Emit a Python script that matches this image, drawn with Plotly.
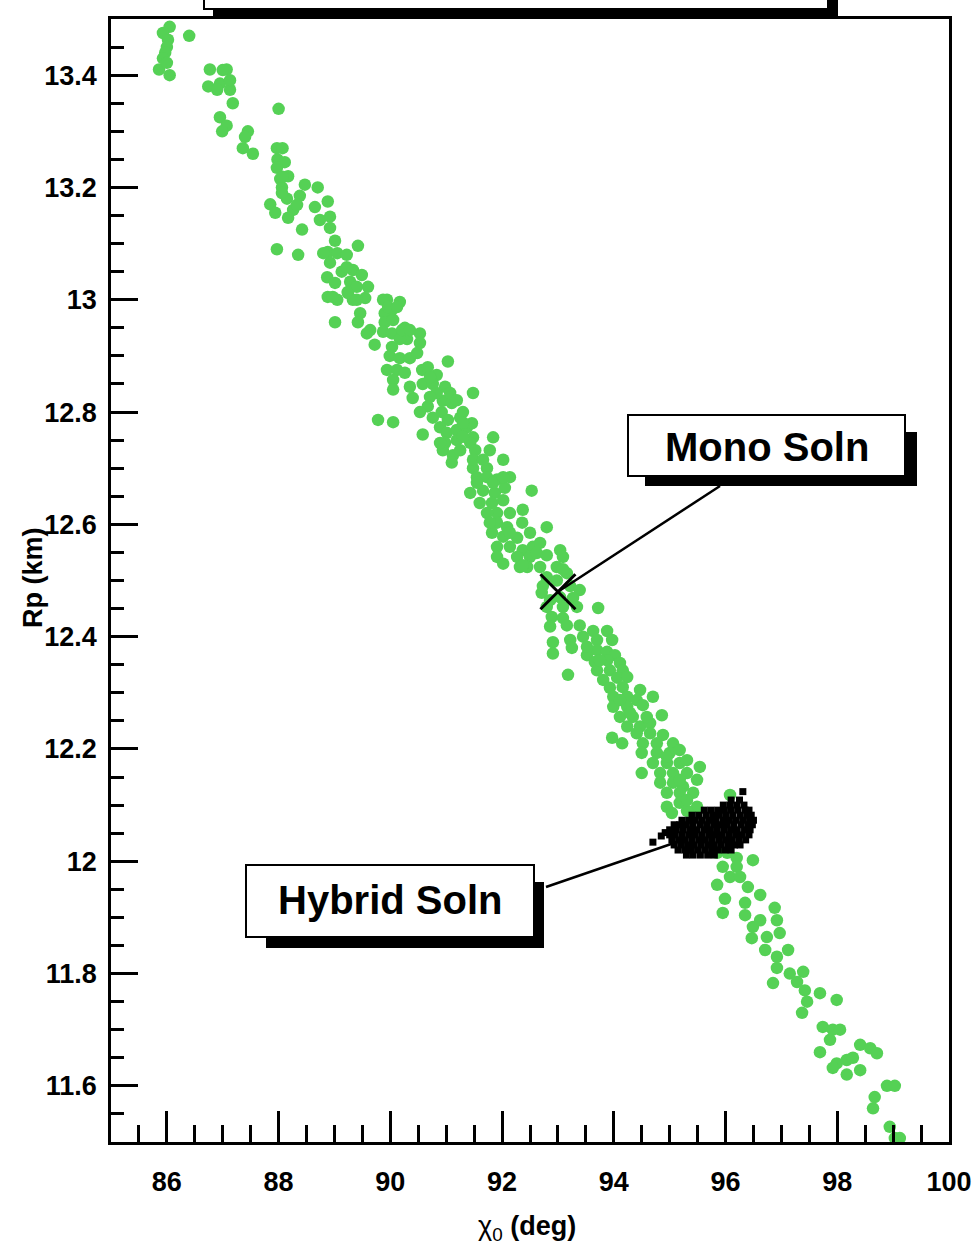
import plotly.graph_objects as go

# ---------------- data ----------------
# Monte-Carlo solutions for the single-component ("mono") fit: chi_0 (deg), Rp (km)
mono_chi_a = [86.05, 85.93, 86.02, 86.00, 85.97, 85.93, 85.86, 86.05, 86.40, 86.77,
              87.07, 86.74, 86.95, 87.13, 86.90, 87.18, 86.95, 87.07, 86.99, 87.45,
              87.40, 87.36, 87.54, 88.00, 87.97, 88.07, 87.98, 88.11, 87.97, 88.17,
              88.03, 88.06, 88.47, 88.70, 87.85, 88.15, 88.38, 88.26, 87.94, 88.17,
              88.42, 88.65, 88.88, 88.74, 88.92, 88.92, 89.01, 87.97, 88.35, 88.88,
              89.05, 89.22, 89.42, 88.92, 89.13, 89.33, 89.49, 88.87, 89.01, 89.28,
              89.60, 89.24, 88.88, 89.33, 89.55, 89.94, 90.17, 90.03, 89.46,
              86.00, 87.13, 87.00, 88.07, 88.06, 88.33, 88.80, 89.22, 89.40, 89.05]
mono_rp_a = [13.486, 13.475, 13.463, 13.450, 13.440, 13.430, 13.410, 13.400, 13.470, 13.410,
             13.410, 13.380, 13.385, 13.374, 13.374, 13.350, 13.325, 13.310, 13.300, 13.300,
             13.290, 13.270, 13.260, 13.340, 13.270, 13.270, 13.250, 13.245, 13.235, 13.220,
             13.215, 13.200, 13.205, 13.200, 13.170, 13.180, 13.185, 13.160, 13.155, 13.146,
             13.125, 13.165, 13.175, 13.142, 13.148, 13.128, 13.105, 13.090, 13.080, 13.085,
             13.083, 13.080, 13.096, 13.066, 13.050, 13.053, 13.044, 13.040, 13.030, 13.032,
             13.023, 13.014, 13.005, 13.000, 13.003, 13.000, 12.996, 12.982, 12.976,
             13.422, 13.391, 13.409, 13.219, 13.190, 13.169, 13.083, 13.058, 13.023, 13.000]

mono_chi_b = [88.97, 89.24, 89.40, 89.42, 89.01, 89.64, 89.58, 89.72, 89.90, 89.90,
              90.05, 89.87, 90.03, 90.26, 90.30, 90.17, 90.53, 90.53, 90.03, 89.99,
              90.17, 90.35, 89.94, 90.12, 90.26, 90.05, 90.05, 90.35, 90.57, 90.67,
              90.83, 91.03, 90.58, 90.76, 90.98, 90.40, 90.67, 90.94, 91.10, 90.53,
              90.76, 90.92, 91.03, 91.25, 91.30, 91.48, 89.78, 90.05, 90.58, 90.89,
              91.01, 91.19, 91.37, 91.46, 91.48, 90.98, 91.19, 90.94, 91.12, 91.25,
              91.43, 91.52, 91.84, 91.78, 92.02, 91.73, 91.48, 91.10, 91.55, 91.73,
              91.91, 92.14, 91.43, 91.66, 91.87, 92.05, 91.60, 91.82, 92.02, 92.53,
              91.91, 92.14, 92.37, 91.91, 92.09, 92.36, 91.82, 92.02, 92.27, 92.80,
              91.91, 92.14, 92.37, 92.55, 92.68, 91.91, 92.27, 92.50, 92.80, 93.04,
              93.09, 92.32, 92.68, 92.98, 93.16, 92.80,
              89.87, 89.96, 90.12, 90.21, 90.35, 90.48, 90.71, 90.83, 91.07, 91.19,
              90.71, 91.30, 90.89, 91.30, 91.48, 91.66, 91.55, 91.84, 92.02, 91.73,
              91.78, 92.14, 92.50, 92.62, 92.45]
mono_rp_b = [13.005, 13.012, 13.000, 12.960, 12.960, 12.946, 12.940, 12.920, 12.976, 12.960,
             12.964, 12.943, 12.940, 12.950, 12.930, 12.930, 12.940, 12.923, 12.916, 12.900,
             12.896, 12.896, 12.875, 12.875, 12.870, 12.857, 12.840, 12.845, 12.875, 12.880,
             12.866, 12.890, 12.850, 12.850, 12.845, 12.825, 12.810, 12.820, 12.816, 12.800,
             12.790, 12.800, 12.786, 12.790, 12.800, 12.834, 12.786, 12.782, 12.760, 12.773,
             12.763, 12.768, 12.773, 12.780, 12.755, 12.745, 12.750, 12.732, 12.723, 12.732,
             12.745, 12.732, 12.755, 12.732, 12.715, 12.700, 12.700, 12.710, 12.684, 12.684,
             12.680, 12.684, 12.656, 12.660, 12.656, 12.665, 12.638, 12.638, 12.643, 12.660,
             12.620, 12.620, 12.626, 12.603, 12.595, 12.603, 12.585, 12.578, 12.576, 12.595,
             12.560, 12.560, 12.554, 12.560, 12.567, 12.542, 12.542, 12.542, 12.545, 12.554,
             12.542, 12.524, 12.524, 12.524, 12.513, 12.506,
             13.000, 12.987, 12.987, 12.946, 12.946, 12.905, 12.862, 12.834, 12.834, 12.821,
             12.827, 12.781, 12.745, 12.756, 12.715, 12.715, 12.674, 12.674, 12.684, 12.620,
             12.603, 12.585, 12.585, 12.549, 12.524]

mono_chi_c = [92.02, 92.37, 93.09, 92.73, 92.98, 93.22, 93.39, 92.71, 93.04, 93.27,
              92.80, 93.09, 93.34, 93.72, 92.89, 93.09, 92.86, 93.16, 93.39, 93.63,
              93.88, 92.91, 93.22, 93.45, 93.70, 93.97, 92.91, 93.25, 93.52, 93.70,
              93.88, 94.02, 93.66, 93.88, 94.11, 93.18, 93.70, 93.93, 94.16, 93.81,
              94.06, 94.24, 93.93, 94.16, 94.47, 93.99, 94.24, 94.70, 94.41, 93.99,
              94.24, 94.52, 94.11, 94.34, 94.86, 94.24, 94.47, 94.65, 93.97, 94.15,
              94.41, 94.65, 94.88, 94.52, 94.77, 95.06, 94.50, 94.77, 95.00, 95.18,
              94.70, 94.95, 95.18, 94.50, 94.83, 95.06, 95.31, 95.54, 94.83, 95.06,
              95.24, 95.49, 94.95, 95.18, 95.42, 94.95, 95.18, 95.49, 96.08, 95.04,
              95.31,
              92.86, 93.52, 93.75, 94.11, 94.29, 94.59, 94.95, 95.31, 95.18, 95.31]
mono_rp_c = [12.530, 12.527, 12.520, 12.490, 12.500, 12.490, 12.483, 12.478, 12.470, 12.469,
             12.453, 12.453, 12.453, 12.451, 12.435, 12.433, 12.418, 12.420, 12.420, 12.410,
             12.410, 12.390, 12.394, 12.400, 12.394, 12.394, 12.370, 12.380, 12.367, 12.376,
             12.373, 12.367, 12.355, 12.358, 12.353, 12.332, 12.340, 12.340, 12.340, 12.323,
             12.327, 12.328, 12.309, 12.310, 12.305, 12.293, 12.293, 12.293, 12.287, 12.275,
             12.275, 12.278, 12.257, 12.257, 12.260, 12.240, 12.240, 12.246, 12.220, 12.210,
             12.228, 12.228, 12.225, 12.210, 12.210, 12.210, 12.193, 12.193, 12.193, 12.198,
             12.175, 12.175, 12.175, 12.157, 12.157, 12.157, 12.157, 12.168, 12.140, 12.140,
             12.133, 12.145, 12.122, 12.122, 12.122, 12.097, 12.104, 12.097, 12.118, 12.086,
             12.090,
             12.465, 12.382, 12.358, 12.287, 12.264, 12.257, 12.186, 12.180, 12.145, 12.109]

mono_chi_d = [95.85, 96.03, 96.20, 96.49, 95.95, 96.20, 95.85, 96.08, 96.26, 96.40,
              95.99, 96.62, 95.95, 96.35, 96.35, 96.88, 96.92, 96.49, 96.62, 96.47,
              96.74, 96.97, 96.71, 96.92, 97.12, 96.92, 97.15, 96.85, 97.39, 97.28,
              97.42, 97.46, 97.37, 97.69, 97.99, 97.74, 97.92, 98.05, 97.87, 97.69,
              97.99, 98.17, 98.28, 98.41, 98.59, 98.71, 97.92, 98.17, 98.41, 98.67,
              98.64, 98.89, 99.03, 98.94, 99.03, 99.12]
mono_rp_d = [12.015, 12.015, 12.006, 12.002, 11.990, 11.990, 11.958, 11.972, 11.972, 11.954,
             11.933, 11.940, 11.908, 11.926, 11.904, 11.917, 11.895, 11.883, 11.895, 11.863,
             11.865, 11.872, 11.842, 11.830, 11.842, 11.810, 11.800, 11.783, 11.803, 11.785,
             11.770, 11.750, 11.730, 11.765, 11.753, 11.705, 11.700, 11.700, 11.682, 11.660,
             11.640, 11.646, 11.650, 11.673, 11.667, 11.658, 11.632, 11.620, 11.628, 11.580,
             11.560, 11.600, 11.600, 11.527, 11.507, 11.507]

# Monte-Carlo solutions for the hybrid fit, listed row by row in Rp
hybrid_rows_rp = [12.109, 12.100, 12.091, 12.082, 12.073, 12.065,
                  12.056, 12.047, 12.038, 12.029, 12.020, 12.011]
hybrid_rows_chi = [
    [96.10, 96.25],
    [95.96, 96.08, 96.20, 96.33],
    [95.62, 95.74, 95.86, 95.98, 96.10, 96.22, 96.35, 96.42],
    [95.40, 95.52, 95.65, 95.77, 95.89, 96.01, 96.13, 96.26, 96.38, 96.46],
    [95.22, 95.34, 95.46, 95.58, 95.70, 95.82, 95.95, 96.07, 96.19, 96.31, 96.43, 96.50],
    [95.08, 95.18, 95.30, 95.42, 95.55, 95.67, 95.79, 95.91, 96.03, 96.15, 96.28, 96.40, 96.48],
    [95.00, 95.12, 95.24, 95.36, 95.48, 95.61, 95.73, 95.85, 95.97, 96.09, 96.21, 96.34, 96.44],
    [95.00, 95.10, 95.22, 95.34, 95.46, 95.58, 95.70, 95.82, 95.94, 96.06, 96.18, 96.30, 96.42],
    [95.04, 95.16, 95.28, 95.40, 95.52, 95.64, 95.76, 95.88, 96.00, 96.12, 96.24, 96.36],
    [95.08, 95.20, 95.32, 95.44, 95.56, 95.68, 95.80, 95.92, 96.04, 96.16, 96.26],
    [95.15, 95.27, 95.39, 95.51, 95.63, 95.75, 95.87, 95.99, 96.10],
    [95.30, 95.42, 95.55, 95.68, 95.80],
]
hybrid_stray_chi = [96.31, 94.70, 94.92, 94.85]
hybrid_stray_rp = [12.124, 12.034, 12.051, 12.045]

# best-fit mono solution, and the point the hybrid label points at
mono_best_chi = [93.0]
mono_best_rp = [12.48]
hybrid_pointer = (95.3, 12.04)

x_tickvals = [86, 88, 90, 92, 94, 96, 98, 100]
y_tickvals = [11.6, 11.8, 12.0, 12.2, 12.4, 12.6, 12.8, 13.0, 13.2, 13.4]

# ---------------- assemble ----------------
mono_chi = mono_chi_a + mono_chi_b + mono_chi_c + mono_chi_d
mono_rp = mono_rp_a + mono_rp_b + mono_rp_c + mono_rp_d
assert len(mono_chi) == len(mono_rp), (len(mono_chi), len(mono_rp))

hyb_chi, hyb_rp = [], []
for rp, row in zip(hybrid_rows_rp, hybrid_rows_chi):
    hyb_chi += row
    hyb_rp += [rp] * len(row)
hyb_chi += hybrid_stray_chi
hyb_rp += hybrid_stray_rp

# ---------------- figure ----------------
W, H = 977, 1248
ML, MR, MT, MB = 111, 28, 19, 106
FONT = "Liberation Sans"
GREEN = "#55D155"
XR = (85, 100)
YR = (11.5, 13.5)


def px(v):
    return (v - ML) / (W - ML - MR)


def py(v):
    return (H - MB - v) / (H - MT - MB)


def dx(v):
    # screen column -> chi value
    return XR[0] + px(v) * (XR[1] - XR[0])


def dy(v):
    # screen row -> Rp value
    return YR[0] + py(v) * (YR[1] - YR[0])


fig = go.Figure()
fig.add_trace(go.Scatter(x=mono_chi, y=mono_rp, mode="markers",
                         marker=dict(color=GREEN, size=12.5, line=dict(width=0)),
                         hoverinfo="skip", showlegend=False))
fig.add_trace(go.Scatter(x=hyb_chi, y=hyb_rp, mode="markers",
                         marker=dict(color="black", size=7, symbol="square", line=dict(width=0)),
                         hoverinfo="skip", showlegend=False))
fig.add_trace(go.Scatter(x=mono_best_chi, y=mono_best_rp, mode="markers",
                         marker=dict(symbol="x-thin", size=35,
                                     line=dict(color="black", width=3)),
                         hoverinfo="skip", showlegend=False))

axis_common = dict(showline=True, linecolor="black", linewidth=2.5, mirror=True,
                   ticks="inside", tickcolor="black", tickwidth=2.5,
                   showgrid=False, zeroline=False,
                   tickfont=dict(family=FONT, size=27, color="black", weight="bold"))

fig.update_xaxes(range=list(XR), tickvals=x_tickvals, ticklen=31,
                 ticklabelstandoff=14,
                 minor=dict(ticks="inside", ticklen=17, tickwidth=2.5, tickcolor="black",
                            dtick=0.5, tick0=85),
                 **axis_common)
fig.update_yaxes(range=list(YR), tickvals=y_tickvals, ticklen=27,
                 ticklabelstandoff=6,
                 minor=dict(ticks="inside", ticklen=13, tickwidth=2.5, tickcolor="black",
                            dtick=0.05, tick0=11.5),
                 **axis_common)

shapes = []


def callout(x0, y0, x1, y1, dx0, dy0, dx1, dy1):
    # drop shadow, then the white box with a black border
    shapes.append(dict(type="rect", xref="paper", yref="paper",
                       x0=px(x0 + dx0), x1=px(x1 + dx1), y0=py(y1 + dy1), y1=py(y0 + dy0),
                       fillcolor="black", line=dict(width=0), layer="above"))
    shapes.append(dict(type="rect", xref="paper", yref="paper",
                       x0=px(x0), x1=px(x1), y0=py(y1), y1=py(y0),
                       fillcolor="white", line=dict(color="black", width=2), layer="above"))


callout(204, -40, 828, 9, 9, 10, 10, 10)
callout(628, 415, 905, 476, 17, 17, 12, 10)
callout(246, 865, 534, 937, 20, 17, 10, 11)

# leader lines from the callouts to the solutions
shapes.append(dict(type="line", xref="x", yref="y",
                   x0=dx(720), y0=dy(486), x1=mono_best_chi[0], y1=mono_best_rp[0],
                   line=dict(color="black", width=2.5), layer="above"))
shapes.append(dict(type="line", xref="x", yref="y",
                   x0=dx(546), y0=dy(887), x1=hybrid_pointer[0], y1=hybrid_pointer[1],
                   line=dict(color="black", width=2.5), layer="above"))

annotations = [
    dict(text="Mono Soln", x=px(767), y=py(447), xref="paper", yref="paper",
         showarrow=False, xanchor="center", yanchor="middle",
         font=dict(family=FONT, size=40, color="black", weight="bold")),
    dict(text="Hybrid Soln", x=px(390), y=py(900), xref="paper", yref="paper",
         showarrow=False, xanchor="center", yanchor="middle",
         font=dict(family=FONT, size=40, color="black", weight="bold")),
    dict(text="Rp (km)", x=px(33), y=py(578), xref="paper", yref="paper",
         showarrow=False, textangle=-90, xanchor="center", yanchor="middle",
         font=dict(family=FONT, size=27, color="black", weight="bold")),
    dict(text="χ<sub>0</sub> <b>(deg)</b>", x=px(527), y=py(1228), xref="paper", yref="paper",
         showarrow=False, xanchor="center", yanchor="middle",
         font=dict(family=FONT, size=27, color="black")),
]

fig.update_layout(width=W, height=H,
                  margin=dict(l=ML, r=MR, t=MT, b=MB, autoexpand=False),
                  paper_bgcolor="white", plot_bgcolor="white",
                  shapes=shapes, annotations=annotations)

fig.write_html("out.html")
